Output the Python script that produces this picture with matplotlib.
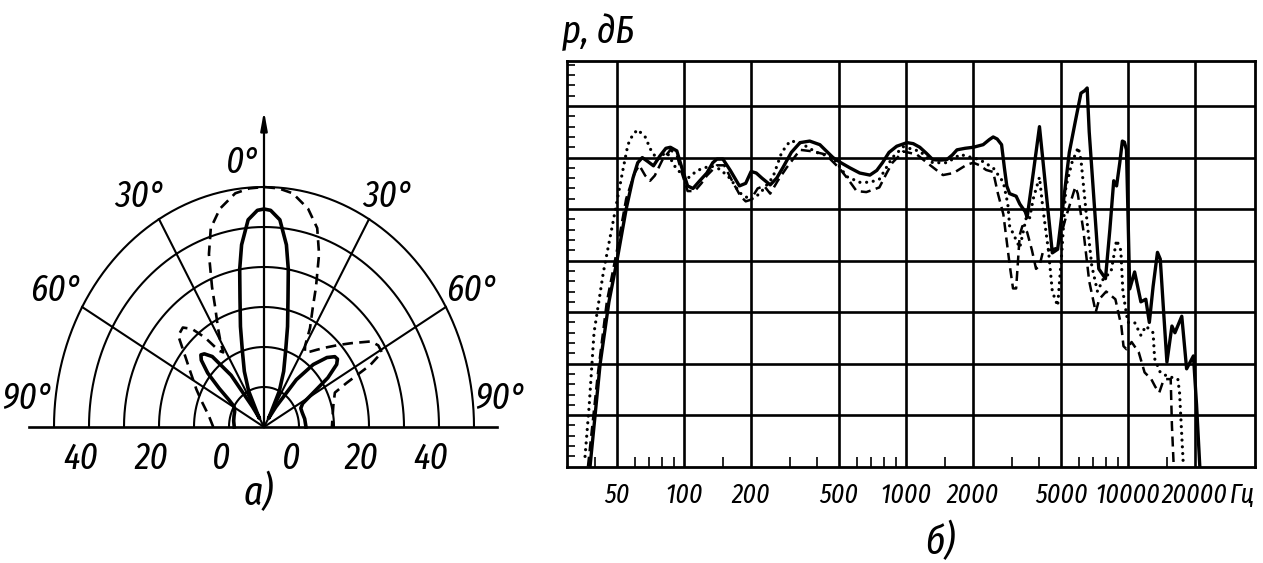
import matplotlib
matplotlib.use("Agg")
import matplotlib.pyplot as plt
import numpy as np
from matplotlib.ticker import NullFormatter

plt.rcParams["font.family"] = ["Fira Sans Extra Condensed", "Roboto Condensed", "DejaVu Sans"]
plt.rcParams["font.style"] = "italic"

# (a) directivity pattern: angle from the axis [deg], level [dB]
CENTER_LEVEL = -10
RING_LEVELS = [0, 10, 20, 30, 40, 50]
RING_LABELS = [0, 20, 40]
SPOKE_ANGLES = [-60, -30, 30, 60]

SOLID_ANGLE = [-90, -80, -72, -66, -62, -59, -56, -53, -50, -47, -45, -43, -40, -36, -33,
               -31, -29, -26, -22, -18, -15, -12, -10, -8, -5, -2, 0,
               2, 5, 8, 10, 12, 15, 18, 22, 26, 29, 31, 34, 38, 42, 46,
               49, 51, 53, 56, 59, 62, 66, 72, 80, 90]
SOLID_LEVEL = [-1.5, -1.2, -1, -0.8, -0.5, 0, 2, 6, 11, 14.5, 15.5, 15, 13, 6, -4,
               -7.5, -6, 0, 5, 10, 16, 23, 30, 36, 42, 44.2, 44.5,
               44.2, 42, 36, 30, 23, 16, 10, 5, 0, -6, -7.5, -4, 5, 11, 15,
               16.8, 17, 16, 12, 6, 2.5, 1.5, 1.5, 1.8, 2]

DASHED_ANGLE = [-90, -80, -70, -64, -57, -52, -47, -43, -40, -37, -34, -32, -30, -28, -25,
                -23, -20, -17, -13, -8, -4, 0, 4, 8, 13, 17, 20, 23, 25, 28,
                30, 32, 35, 38, 42, 46, 50, 55, 58, 61, 63, 65, 67, 75, 90]
DASHED_LEVEL = [4.5, 6, 9, 11.5, 15, 18.5, 23.5, 24, 22, 18, 13, 12, 15, 18, 23,
                28, 36, 42, 46, 49, 49.8, 50, 49.8, 49, 46, 42, 36, 28, 23, 18,
                13.5, 12, 13, 14.5, 16.8, 19.5, 22.6, 27.3, 28.5, 28.5, 24, 16, 12, 10.5, 9.4]

# (b) frequency response: frequency [Hz], level [dB]
FREQ_TICKS = [50, 100, 200, 500, 1000, 2000, 5000, 10000, 20000]
FREQ_MINOR = [40, 60, 70, 80, 90, 150, 300, 400, 600, 700, 800, 900,
              1500, 3000, 4000, 6000, 7000, 8000, 9000, 15000]
DB_GRID = [10, 20, 30, 40, 50, 60, 70]
DB_MINOR = [v for v in range(2, 80, 2) if v % 10]

SOLID_F = [37.8, 42, 46, 50, 55, 59, 62, 65, 69, 73, 78, 83, 87, 93, 98, 104, 110, 118,
           127, 135, 141, 150, 162, 178, 190, 201, 212, 225, 245, 262, 279, 305, 334,
           369, 410, 440, 470, 510, 560, 620, 689, 740, 785, 840, 910, 1013, 1080, 1156,
           1240, 1322, 1420, 1530, 1620, 1700, 1850, 2015, 2230, 2380, 2475, 2580, 2700,
           2780, 2850, 2935, 3140, 3260, 3345, 3450, 3520, 3750, 4000, 4200, 4570, 4830,
           5090, 5450, 5800, 6150, 6400, 6560, 6700, 7400, 7930, 8300, 8640, 8900, 9200,
           9450, 9650, 9860, 10200, 10730, 11450, 12050, 12500, 13000, 13600, 14000,
           14500, 15000, 15800, 16300, 17500, 18400, 19750, 20400, 21100]
SOLID_DB = [0, 20, 32, 40, 50, 56, 59, 60, 59.2, 58.4, 60.3, 61.8, 62, 61.3, 58, 54.5, 54,
            55.5, 57, 59, 59.7, 59.7, 57.5, 54.5, 55, 57.3, 57, 56, 54.7, 56, 58, 61, 62.9,
            63.2, 62.5, 61.2, 60, 59, 58, 57, 56.6, 57.5, 59, 61, 62.2, 62.9, 62.7, 62,
            60.8, 59.6, 59.5, 59.6, 60.5, 61.5, 61.8, 62, 62.5, 63.5, 64, 63.6, 62.5,
            58, 54.5, 53, 52.5, 51, 50.3, 49.5, 48.4, 57, 66, 57, 41.5, 42.2,
            50.3, 61, 67, 72.5, 73, 73.5, 65, 38.4, 36.5, 46, 55.5, 54.5, 59,
            63.2, 63, 61.5, 34.5, 37.8, 32, 32.5, 28, 35, 41.6, 40.3,
            30, 20.3, 27.3, 26, 29.2, 19, 21.5, 12, 0]

DASHED_F = [37, 41, 45, 50, 55, 60, 63, 67, 70.5, 74, 80, 87, 93, 98, 104, 112, 120, 127,
            141, 152, 165, 180, 190, 200, 215, 230, 245, 265, 290, 334, 381, 435, 500, 545,
            600, 664, 760, 820, 870, 975, 1120, 1280, 1470, 1640, 1880, 2015, 2150, 2300,
            2475, 2600, 2750, 2940, 3040, 3140, 3260, 3350, 3520, 3700, 3860, 4000, 4140,
            4400, 4830, 5260, 5800, 5950, 6300, 6700, 7170, 7430, 7990, 8790, 9350, 9560,
            9860, 10400, 11200, 11900, 12750, 13300, 13860, 14400, 14800, 15600, 15800, 16100]
DASHED_DB = [0, 18, 32, 42, 52, 57, 58.5, 56.5, 55.5, 56.5, 59.5, 61.5, 60.5, 57, 53.5, 53.5,
             55, 56.5, 58.5, 58.5, 55.5, 52.5, 51.5, 51.8, 54, 54.5, 53, 55.5, 58, 61.5, 61.2,
             60.6, 58, 56, 53.5, 53.3, 54.2, 57, 59, 61.2, 60.6, 58.6, 56.6, 57, 58.6, 59,
             58.5, 57.6, 57.2, 53, 49, 39, 34.6, 34.6, 45, 46.7, 45.5, 42, 38.4, 39, 41.6,
             42, 42.5, 48.4, 54.3, 53, 46, 36, 30, 32.5, 34, 32.5, 27.3, 23.4,
             22.8, 24.2, 22.2, 18.3, 17, 15.5, 14.4, 16.5, 17, 17, 8, 0]

DOTTED_F = [35.9, 37.5, 39.4, 43.4, 48, 53, 56, 59, 62, 67, 71, 76, 80, 84, 92, 103, 115,
            132, 146, 163, 178, 200, 220, 252, 276, 301, 330, 396, 470, 542, 620, 690, 760,
            870, 975, 1160, 1320, 1530, 1760, 2150, 2475, 2750, 2880, 2935, 3260, 3490, 3600,
            3750, 4000, 4140, 4400, 4570, 4830, 5050, 5260, 5600, 5980, 6150, 6500, 6880,
            7300, 7760, 8400, 8900, 9300, 9500, 10000, 10730, 11450, 12050, 13000, 13200,
            14000, 15000, 16800, 17100, 17500, 17800]
DOTTED_DB = [2, 12, 26, 37.7, 47.5, 57.3, 62.5, 64.5, 65.4, 64, 61.5, 59.6, 60.5, 61, 58,
             55.8, 57.5, 58.4, 57.7, 55.8, 53.2, 51.8, 53, 56.2, 61, 63.2, 63, 61, 60, 56.3,
             55.2, 55.2, 55.8, 60, 62.1, 61.2, 59, 59, 60.6, 59.6, 58, 55.2, 51, 46.7, 42.5,
             48.4, 48, 52, 56.2, 50.3, 41.6, 34, 31.2, 42, 54.3, 59, 62, 59.6, 49, 39,
             34, 36.5, 37.8, 44, 42, 34, 28, 28, 25.5, 27.3, 26, 21, 18.3, 17.6, 17,
             14.4, 6, 0]

W, H = 1263, 563
fig = plt.figure(figsize=(W / 100, H / 100), dpi=100)


def to_xy(angle, level):
    a = np.radians(np.asarray(angle, float))
    r = (np.asarray(level, float) - CENTER_LEVEL) / 10.0
    return r * np.sin(a), r * np.cos(a)


# ---------- (a) polar pattern, drawn on a plain axes (units = ring steps)
axp = fig.add_axes([5 / W, 4 / H, 518 / W, 468 / H])
axp.set_xlim(-7.4, 7.4)
axp.set_ylim(-3.3, 8.4)
axp.axis("off")

sweep = np.linspace(-90, 90, 361)
for lev in RING_LEVELS:
    x, y = to_xy(sweep, np.full_like(sweep, lev))
    axp.plot(x, y, color="k", lw=1.5)
for ang in SPOKE_ANGLES:
    x, y = to_xy([ang, ang], [CENTER_LEVEL, RING_LEVELS[-1]])
    axp.plot(x, y, color="k", lw=1.5)
axp.plot([-6.7, 6.65], [0, 0], color="k", lw=1.9)
axp.annotate("", xy=to_xy(0, 69), xytext=to_xy(0, CENTER_LEVEL),
             arrowprops=dict(arrowstyle="-|>,head_length=1.1,head_width=0.2",
                             color="k", lw=1.6, shrinkA=0, shrinkB=0))

x, y = to_xy(SOLID_ANGLE, SOLID_LEVEL)
axp.plot(x, y, color="k", lw=2.6, solid_joinstyle="round")
x, y = to_xy(DASHED_ANGLE, DASHED_LEVEL)
axp.plot(x, y, color="k", lw=1.9, linestyle=(0, (4, 2.4)))

lab = dict(fontsize=27, ha="center", va="center")
axp.text(-0.6, 6.62, "0°", **lab)
for sign in (-1, 1):
    axp.text(sign * 3.55, 5.77, "30°", **lab)
    axp.text(sign * 5.95, 3.4, "60°", **lab)
    axp.text(sign * 6.75, 0.7, "90°", **lab)
    for lev in RING_LABELS:
        r = (lev - CENTER_LEVEL) / 10.0
        axp.text(sign * r - 0.22, -0.78, str(lev), **lab)
axp.text(-0.15, -1.65, "а)", fontsize=29, ha="center", va="center")

# ---------- (b) frequency response
axr = fig.add_axes([566.6 / W, 96.3 / H, (1255 - 566.6) / W, 406 / H])
axr.set_xscale("log")
axr.set_xlim(29.65, 37400)
axr.set_ylim(0, 78.8)

axr.plot(SOLID_F, SOLID_DB, color="k", lw=2.4, solid_joinstyle="round", zorder=4)
axr.plot(DASHED_F, DASHED_DB, color="k", lw=1.8, linestyle=(0, (4, 2.2)), zorder=4)
axr.plot(DOTTED_F, DOTTED_DB, color="k", lw=2.3, linestyle=(0, (0.01, 2.1)),
         dash_capstyle="round", zorder=4)

axr.set_xticks(FREQ_TICKS, [str(f) for f in FREQ_TICKS])
axr.set_xticks(FREQ_MINOR, minor=True)
axr.xaxis.set_minor_formatter(NullFormatter())
axr.set_yticks(DB_GRID)
axr.set_yticks(DB_MINOR, minor=True)
axr.tick_params(axis="x", which="major", length=0, pad=11, labelsize=20)
axr.tick_params(axis="x", which="minor", direction="in", length=7, width=1.2)
axr.tick_params(axis="y", which="major", length=0, labelleft=False)
axr.tick_params(axis="y", which="minor", direction="in", length=5.5, width=1.2)
axr.grid(True, which="major", color="k", lw=1.9)
for sp in axr.spines.values():
    sp.set_linewidth(2.0)

axr.text(33000, -0.07, "Гц", transform=axr.get_xaxis_transform(),
         fontsize=20, ha="center", va="center")
fig.text(598 / W, 1 - 32 / H, "р, дБ", fontsize=28, ha="center", va="center")
fig.text(940 / W, 1 - 542 / H, "б)", fontsize=29, ha="center", va="center")

fig.savefig("out.png", dpi=100)
